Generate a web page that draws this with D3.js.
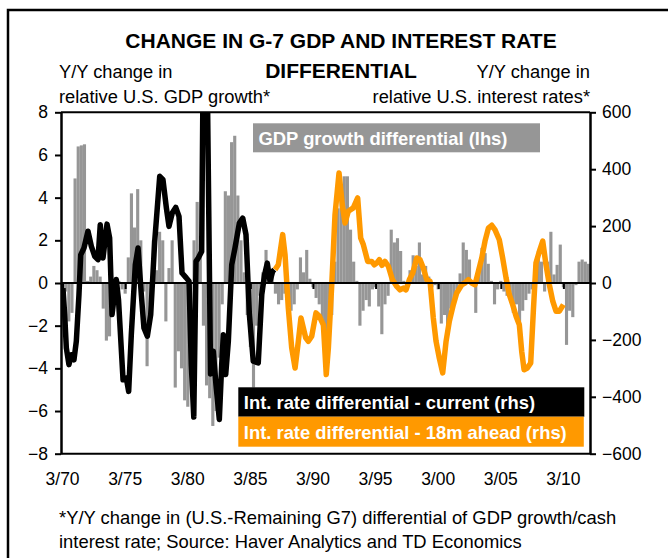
<!DOCTYPE html>
<html>
<head>
<meta charset="utf-8">
<script src="https://cdn.jsdelivr.net/npm/d3@7/dist/d3.min.js"></script>
<style>
  body { margin: 0; background: #fff; }
  text { font-family: Arial, "Liberation Sans", sans-serif; }
</style>
</head>
<body>
<div id="chart"></div>
<script>
// GDP growth differential (lhs), quarterly from Q1 1970
var gdpStartYear = 1970;
var gdpDiff = [
  -0.3, -0.4, -1.8, -1.4, 4.9, 6.4, 6.45, 6.5, 0.1, 0.3, 0.8, 0.6, 0.3, -1.2, -2.7, -2.5, -1.3, -0.3, 0.1, -0.3,
  -0.5, 1.2, 4.2, 2.6, 4.4, 2.0, -0.4, -3.9, -1.0, 2.0, 0.6, 2.4, 2.0, -1.8, 0.7, 2.0, -4.9, -3.2, -4.0, -5.5,
  -5.8, -3.0, 2.0, 3.8, 1.5, -2.0, -4.8, -5.4, -6.7, -6.0, -3.5, -1.0, 4.3, 4.1, 6.6, 6.9, 4.1, 2.0, 0.5, -1.5,
  -3.0, -4.9, -2.0, -0.6, 0.5, 1.55, 0.5, 0.3, -0.5, -1.0, -0.8, -0.5, -0.4, -1.3, -1.0, -0.3, 1.2, 0.5, 1.55, 0.2,
  -0.2, -0.7, -1.0, -2.0, -3.0, -2.8, -1.5, 1.0, 3.5, 4.5, 5.0, 5.0, 2.5, 1.0, 0.1, -2.0, -1.3, -0.8, -1.1, -0.3,
  -0.2, -1.1, -2.4, -1.0, -0.6, 2.5, 1.9, 2.1, 1.5, 0.1, -0.3, 0.6, 1.3, 0.8, 1.9, 0.4, 0.8, 0.3, -0.2, -0.1,
  -0.3, -1.9, -1.5, -2.0, -1.2, -0.8, -0.3, 0.45, 1.9, 1.55, 1.1, 0.1, -1.4, 0.5, 1.65, 1.4, 0.9, 0.1, -1.0, -0.3,
  0.1, -0.4, -0.6, -0.6, -1.4, -1.0, -2.0, -1.3, -0.8, -0.5, -0.3, 0.85, 1.5, 1.0, -0.4, 1.0, 2.4, 0.4, 0.85, 1.8,
  -0.2, -2.9, -1.3, -1.6, -0.1, 1.0, 1.1, 1.0, 0.9
];

// Int. rate differential - current (rhs)
var currentYears = [
  1970.03, 1970.17, 1970.30, 1970.51, 1970.70, 1970.91, 1971.10, 1971.31, 1971.45, 1971.71,
  1972.03, 1972.30, 1972.57, 1972.83, 1973.01, 1973.23, 1973.55, 1973.76, 1973.95, 1974.29,
  1974.47, 1974.83, 1975.09, 1975.28, 1975.49, 1975.81, 1976.03, 1976.29, 1976.50, 1976.77,
  1977.04, 1977.36, 1977.76, 1978.02, 1978.29, 1978.50, 1978.76, 1979.04, 1979.30, 1979.54,
  1979.88, 1980.10, 1980.28, 1980.48, 1980.66, 1980.84, 1981.11, 1981.26, 1981.50, 1981.82,
  1982.04, 1982.25, 1982.52, 1982.71, 1982.84, 1983.03, 1983.24, 1983.51, 1983.77, 1984.12,
  1984.39, 1984.65, 1984.92, 1985.23, 1985.63, 1985.91, 1986.13, 1986.35, 1986.57, 1986.78, 1986.91
];
var currentValues = [
  -18, -111, -228, -287, -252, -270, -204, -41, 99, 123,
  182, 129, 94, 82, 205, 88, 207, 158, -111, 12,
  -60, -340, -334, -381, -182, 64, 123, -41, -158, -187,
  -111, 147, 375, 363, 264, 199, 246, 266, 234, 35,
  18, 6, -287, -471, 76, 88, 111, 950, 950, -320,
  -240, -357, -480, -287, -182, -322, -205, 64, 123, 211,
  228, 170, -111, -275, -281, -41, 28, 70, 6, 41, 47
];

// Int. rate differential - 18m ahead (rhs)
var aheadYears = [
  1986.97, 1987.23, 1987.58, 1987.77, 1988.03, 1988.30, 1988.57, 1988.83, 1989.04, 1989.23,
  1989.42, 1989.63, 1989.90, 1990.24, 1990.51, 1990.83, 1991.06, 1991.23, 1991.50, 1991.76,
  1992.08, 1992.34, 1992.56, 1992.82, 1993.22, 1993.57, 1993.81, 1994.02, 1994.37, 1994.69,
  1994.90, 1995.09, 1995.30, 1995.51, 1995.75, 1996.02, 1996.34, 1996.69, 1996.95, 1997.22,
  1997.43, 1997.70, 1997.97, 1998.29, 1998.55, 1998.81, 1999.08, 1999.35, 1999.61, 1999.83,
  2000.09, 2000.36, 2000.63, 2000.89, 2001.21, 2001.48, 2001.88, 2002.14, 2002.41, 2002.68,
  2002.94, 2003.21, 2003.48, 2003.74, 2004.01, 2004.28, 2004.54, 2004.88, 2005.15, 2005.42,
  2005.68, 2005.95, 2006.22, 2006.48, 2006.67, 2006.86, 2007.12, 2007.39, 2007.60, 2007.81,
  2008.08, 2008.35, 2008.61, 2008.88, 2009.15, 2009.41, 2009.68, 2010.00
];
var aheadValues = [
  47, 64, 170, 99, -88, -228, -299, -205, -123, -158,
  -193, -205, -187, -105, -117, -147, -322, -228, -6, 240,
  387, 275, 211, 252, 264, 299, 158, 135, 76, 76,
  64, 70, 82, 62, 76, 59, 12, -12, -24, -18,
  -24, 12, 35, 88, 82, 53, 12, 6, -123, -205,
  -264, -316, -205, -135, -76, -35, -6, 0, 12, 0,
  -6, 41, 88, 147, 193, 203, 187, 152, 88, 18,
  -41, -76, -117, -147, -240, -305, -299, -281, -99, 70,
  111, 147, 64, -6, -64, -99, -99, -76
];

var lhsTicks = [-8, -6, -4, -2, 0, 2, 4, 6, 8];
var rhsTicks = [-600, -400, -200, 0, 200, 400, 600];
var xTickYears = [1970, 1975, 1980, 1985, 1990, 1995, 2000, 2005, 2010];

var total_width = 668, total_height = 558;
var margin = {top: 112.3, right: 78, bottom: 104.3, left: 61},
    width = total_width - margin.left - margin.right,
    height = total_height - margin.top - margin.bottom;

var root = d3.select("#chart").append("svg")
    .attr("width", total_width)
    .attr("height", total_height);

// outer frame (runs off the right and bottom of the picture)
root.append("rect")
    .attr("x", 8).attr("y", 10)
    .attr("width", 700).attr("height", 600)
    .attr("fill", "none")
    .attr("stroke", "#000")
    .attr("stroke-width", 2.5);

// title
root.append("text")
    .attr("x", 341).attr("y", 48)
    .attr("text-anchor", "middle")
    .attr("font-size", 21).attr("font-weight", "bold")
    .text("CHANGE IN G-7 GDP AND INTEREST RATE");
root.append("text")
    .attr("x", 341).attr("y", 77.5)
    .attr("text-anchor", "middle")
    .attr("font-size", 21).attr("font-weight", "bold")
    .text("DIFFERENTIAL");

// axis titles
var axisTitles = [
  {x: 59, y: 78, anchor: "start", t: "Y/Y change in"},
  {x: 59, y: 102.5, anchor: "start", t: "relative U.S. GDP growth*"},
  {x: 590, y: 78, anchor: "end", t: "Y/Y change in"},
  {x: 590, y: 102.5, anchor: "end", t: "relative U.S. interest rates*"}
];
root.selectAll(".axis-title")
    .data(axisTitles)
    .enter()
    .append("text")
      .attr("class", "axis-title")
      .attr("x", d => d.x).attr("y", d => d.y)
      .attr("text-anchor", d => d.anchor)
      .attr("font-size", 18.3)
      .text(d => d.t);

var svg_chart = root.append("g")
    .attr("transform", "translate(" + margin.left + "," + margin.top + ")");

// scales
var x = d3.scaleLinear()
    .domain([gdpStartYear - 0.125, gdpStartYear - 0.125 + gdpDiff.length / 4])
    .range([0, width]);
var yL = d3.scaleLinear().domain([-8, 8]).range([height, 0]);
var yR = d3.scaleLinear().domain([-600, 600]).range([height, 0]);

svg_chart.append("clipPath")
    .attr("id", "plot-clip")
  .append("rect")
    .attr("width", width).attr("height", height);

var plot = svg_chart.append("g").attr("clip-path", "url(#plot-clip)");

// bars
var bw = x(gdpStartYear + 0.25) - x(gdpStartYear);
plot.append("g")
    .selectAll("rect")
    .data(gdpDiff)
    .enter()
    .append("rect")
      .attr("x", (d, i) => x(gdpStartYear + i / 4) - bw / 2)
      .attr("width", bw)
      .attr("y", d => yL(Math.max(0, d)))
      .attr("height", d => Math.abs(yL(d) - yL(0)))
      .attr("fill", "#969696");

// zero line with year ticks
svg_chart.append("g")
    .attr("transform", "translate(0," + yL(0) + ")")
    .call(d3.axisBottom(x).tickValues(xTickYears).tickSize(6).tickFormat(""))
    .call(g => g.select(".domain").attr("stroke-width", 2).attr("d", "M0,0H" + width))
    .call(g => g.selectAll(".tick line").attr("stroke-width", 2));

// lines
var lineGen = d3.line()
    .x(d => x(d[0]))
    .y(d => yR(d[1]));

plot.append("path")
    .datum(d3.zip(currentYears, currentValues))
    .attr("d", lineGen)
    .attr("fill", "none")
    .attr("stroke", "#000")
    .attr("stroke-width", 5.5)
    .attr("stroke-linejoin", "round");

plot.append("path")
    .datum(d3.zip(aheadYears, aheadValues))
    .attr("d", lineGen)
    .attr("fill", "none")
    .attr("stroke", "#FF9900")
    .attr("stroke-width", 5.5)
    .attr("stroke-linejoin", "round");

// plot frame top / bottom
svg_chart.append("line")
    .attr("x1", 0).attr("x2", width).attr("y1", 0).attr("y2", 0)
    .attr("stroke", "#000").attr("stroke-width", 2);
svg_chart.append("line")
    .attr("x1", 0).attr("x2", width).attr("y1", height).attr("y2", height)
    .attr("stroke", "#000").attr("stroke-width", 2);

// left axis
svg_chart.append("g")
    .call(d3.axisLeft(yL).tickValues(lhsTicks).tickSize(6).tickSizeOuter(0).tickPadding(7))
    .call(g => g.select(".domain").attr("stroke-width", 2.5))
    .call(g => g.selectAll(".tick line").attr("stroke-width", 2))
    .call(g => g.selectAll(".tick text").attr("font-size", 17.5).attr("font-family", "Arial, 'Liberation Sans', sans-serif"));

// right axis
svg_chart.append("g")
    .attr("transform", "translate(" + width + ",0)")
    .call(d3.axisRight(yR).tickValues(rhsTicks).tickSize(6).tickSizeOuter(0).tickPadding(6))
    .call(g => g.select(".domain").attr("stroke-width", 2.5))
    .call(g => g.selectAll(".tick line").attr("stroke-width", 2))
    .call(g => g.selectAll(".tick text").attr("font-size", 17.5).attr("font-family", "Arial, 'Liberation Sans', sans-serif"));

// x labels below the plot
svg_chart.append("g")
    .selectAll("text")
    .data(xTickYears)
    .enter()
    .append("text")
      .attr("x", d => x(d))
      .attr("y", height + 31)
      .attr("text-anchor", "middle")
      .attr("font-size", 17.5)
      .text(d => "3/" + String(d).slice(2));

// legend boxes
var legends = [
  {x: 253, y: 123.3, w: 287, h: 29, fill: "#969696", t: "GDP growth differential (lhs)"},
  {x: 238.3, y: 387.3, w: 346, h: 29.4, fill: "#000", t: "Int. rate differential - current (rhs)"},
  {x: 238.3, y: 416.7, w: 345.5, h: 30, fill: "#FF9900", t: "Int. rate differential - 18m ahead (rhs)"}
];
var leg = root.append("g")
    .selectAll("g")
    .data(legends)
    .enter()
    .append("g");
leg.append("rect")
    .attr("x", d => d.x).attr("y", d => d.y)
    .attr("width", d => d.w).attr("height", d => d.h)
    .attr("fill", d => d.fill);
leg.append("text")
    .attr("x", d => d.x + 5.5)
    .attr("y", d => d.y + d.h / 2 + 6.8)
    .attr("fill", "#fff")
    .attr("font-size", 18.4)
    .attr("font-weight", "bold")
    .text(d => d.t);

// footnote
root.append("text")
    .attr("x", 59).attr("y", 524)
    .attr("font-size", 18.4)
    .text("*Y/Y change in (U.S.-Remaining G7) differential of GDP growth/cash");
root.append("text")
    .attr("x", 59).attr("y", 548)
    .attr("font-size", 18.4)
    .text("interest rate; Source: Haver Analytics and TD Economics");
</script>
</body>
</html>
